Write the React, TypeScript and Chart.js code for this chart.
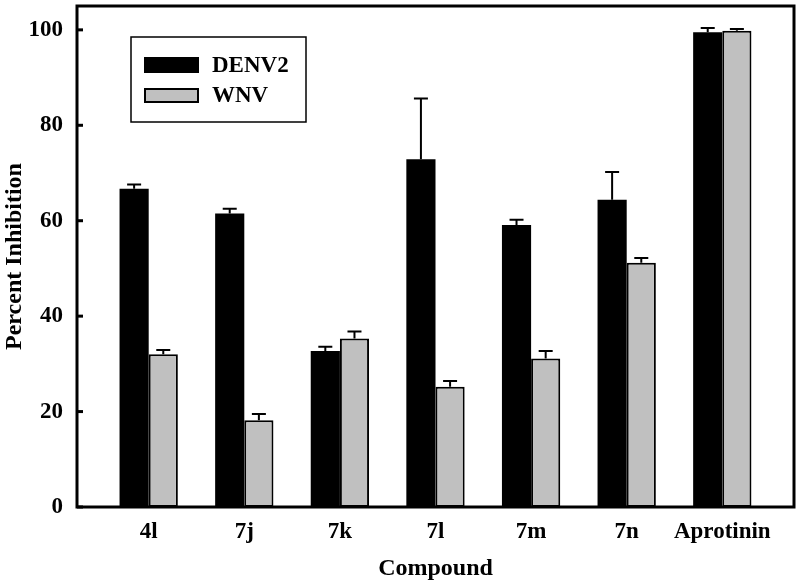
import React, { useEffect, useRef } from "react";
import { Chart, registerables } from "chart.js";

Chart.register(...registerables);

const categories = ["4l", "7j", "7k", "7l", "7m", "7n", "Aprotinin"];
const seriesNames = ["DENV2", "WNV"];
const denv2Values = [66.7, 61.5, 32.7, 72.9, 59.1, 64.4, 99.5];
const denv2Errors = [0.9, 1.0, 0.9, 12.7, 1.1, 5.8, 0.9];
const wnvValues = [32.0, 18.2, 35.3, 25.2, 31.1, 51.2, 99.8];
const wnvErrors = [0.9, 1.3, 1.5, 1.2, 1.6, 1.0, 0.4];
const yTicks = [0, 20, 40, 60, 80, 100];

const FONT = "'Liberation Serif', 'Times New Roman', serif";

const errorBarPlugin = {
  id: "errorBars",
  afterDatasetsDraw(chart: any) {
    const ctx = chart.ctx;
    const yScale = chart.scales.y;
    chart.data.datasets.forEach((ds: any, di: number) => {
      const meta = chart.getDatasetMeta(di);
      const errs: number[] = ds.errors || [];
      meta.data.forEach((el: any, i: number) => {
        const v = ds.data[i].y;
        const top = yScale.getPixelForValue(v + errs[i]);
        ctx.save();
        ctx.strokeStyle = "#000";
        ctx.lineWidth = 2;
        ctx.beginPath();
        ctx.moveTo(el.x, el.y);
        ctx.lineTo(el.x, top);
        ctx.moveTo(el.x - 7, top);
        ctx.lineTo(el.x + 7, top);
        ctx.stroke();
        ctx.restore();
      });
    });
  },
};

const framePlugin = {
  id: "frameAndLegend",
  afterDraw(chart: any) {
    const ctx = chart.ctx;
    const a = chart.chartArea;
    const yScale = chart.scales.y;
    ctx.save();
    ctx.strokeStyle = "#000";
    ctx.lineWidth = 3;
    ctx.strokeRect(a.left, a.top, a.right - a.left, a.bottom - a.top);
    // inward ticks
    yTicks.forEach((t) => {
      const y = yScale.getPixelForValue(t);
      ctx.beginPath();
      ctx.moveTo(a.left, y);
      ctx.lineTo(a.left + 6, y);
      ctx.stroke();
    });
    // legend
    ctx.lineWidth = 1.5;
    ctx.strokeRect(131, 37, 175, 85);
    const ds = chart.data.datasets;
    ctx.fillStyle = ds[0].backgroundColor;
    ctx.fillRect(144, 57, 55, 16);
    ctx.fillStyle = ds[1].backgroundColor;
    ctx.fillRect(144, 88, 55, 15);
    ctx.lineWidth = 2;
    ctx.strokeRect(145, 89, 53, 13);
    ctx.fillStyle = "#000";
    ctx.font = `bold 23px ${FONT}`;
    ctx.textBaseline = "middle";
    ctx.textAlign = "left";
    ctx.fillText(ds[0].label, 212, 66);
    ctx.fillText(ds[1].label, 212, 96);
    ctx.restore();
  },
};

export default function App() {
  const ref = useRef<HTMLCanvasElement | null>(null);
  useEffect(() => {
    if (!ref.current) return;
    const chart = new Chart(ref.current, {
      type: "bar",
      data: {
        datasets: [
          {
            label: seriesNames[0],
            data: denv2Values.map((v, i) => ({ x: i, y: v })),
            errors: denv2Errors,
            backgroundColor: "#000000",
            borderColor: "#000000",
            borderWidth: 0,
            categoryPercentage: 0.61,
            barPercentage: 1.0,
          } as any,
          {
            label: seriesNames[1],
            data: wnvValues.map((v, i) => ({ x: i, y: v })),
            errors: wnvErrors,
            backgroundColor: "#c0c0c0",
            borderColor: "#000000",
            borderWidth: 2,
            borderSkipped: false,
            categoryPercentage: 0.61,
            barPercentage: 1.0,
          } as any,
        ],
      },
      options: {
        animation: false,
        responsive: false,
        layout: { padding: { left: 0, top: 6, right: 6, bottom: 0 } },
        plugins: { legend: { display: false }, tooltip: { enabled: false } },
        scales: {
          x: {
            type: "linear",
            min: -0.75,
            max: 6.75,
            offset: false,
            grid: { display: false, drawTicks: false },
            border: { display: false },
            afterBuildTicks: (axis: any) => {
              axis.ticks = categories.map((_, i) => ({ value: i }));
            },
            afterFit: (axis: any) => {
              axis.height = 77;
              axis.paddingLeft = 0;
              axis.paddingRight = 0;
            },
            ticks: {
              autoSkip: false,
              maxRotation: 0,
              padding: 11,
              color: "#000",
              font: { family: FONT, size: 23, weight: "bold" },
              callback: (v: any) => categories[Math.round(Number(v))] ?? "",
            },
            title: {
              display: true,
              text: "Compound",
              color: "#000",
              font: { family: FONT, size: 24, weight: "bold" },
              padding: { top: 0, bottom: 1 },
            },
          },
          y: {
            min: 0,
            max: 105,
            grid: { display: false, drawTicks: false },
            border: { display: false },
            afterBuildTicks: (axis: any) => {
              axis.ticks = yTicks.map((v) => ({ value: v }));
            },
            afterFit: (axis: any) => {
              axis.width = 77;
              axis.paddingTop = 0;
              axis.paddingBottom = 0;
            },
            ticks: {
              padding: 14,
              color: "#000",
              font: { family: FONT, size: 23, weight: "bold" },
            },
            title: {
              display: true,
              text: "Percent Inhibition",
              color: "#000",
              font: { family: FONT, size: 24, weight: "bold" },
              padding: { top: 0, bottom: 0 },
            },
          },
        },
      },
      plugins: [errorBarPlugin, framePlugin],
    } as any);
    return () => chart.destroy();
  }, []);
  return (
    <div style={{ position: "fixed", left: 0, top: 0, width: 800, height: 584, background: "#fff" }}>
      <canvas ref={ref} width={800} height={584} style={{ display: "block", width: 800, height: 584 }} />
    </div>
  );
}
